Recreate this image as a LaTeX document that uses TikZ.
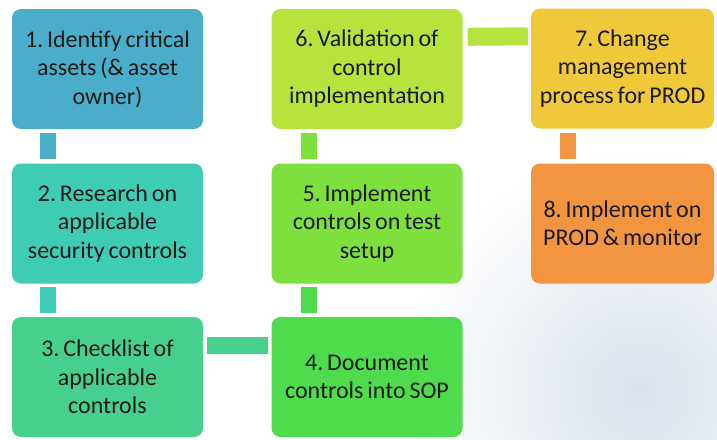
\documentclass[tikz,border=0pt]{standalone}
\usepackage{fontspec}
\setmainfont{Carlito}
\usetikzlibrary{calc}
\definecolor{c1}{HTML}{4AAECB}
\definecolor{c2}{HTML}{3FCCB4}
\definecolor{c3}{HTML}{47D08D}
\definecolor{c4}{HTML}{4EDB4C}
\definecolor{c5}{HTML}{7EE03C}
\definecolor{c6}{HTML}{B6E33C}
\definecolor{c7}{HTML}{F0C93A}
\definecolor{c8}{HTML}{F39441}
\definecolor{txt}{HTML}{1A1A1A}
\definecolor{bgshade}{HTML}{D9E2EC}
\newcommand{\stepfont}{\fontsize{24}{28.5}\selectfont\frenchspacing\setlength{\spaceskip}{0.16em}}
\tikzset{
  stepbox/.style={rectangle, rounded corners=9pt, minimum width=191pt, minimum height=120pt,
    inner sep=0pt, align=center, text=txt, font=\stepfont},
  link/.style={line width=16pt}
}
\begin{document}
\begin{tikzpicture}[x=1pt,y=-1pt]
\useasboundingbox (0,0) rectangle (717,439);
\fill[white] (0,0) rectangle (717,439);
\begin{scope}
\clip (0,0) rectangle (717,439);
\shade[inner color=bgshade, outer color=white] (640,390) circle (240);
\end{scope}
% boxes
\node[stepbox, fill=c1] (b1) at (107.5,69) {1. Identify critical\\assets (\& asset\\owner)};
\node[stepbox, fill=c2] (b2) at (107.5,223.5) {2. Research on\\applicable\\security controls};
\node[stepbox, fill=c3] (b3) at (107.5,377) {3. Checklist of\\applicable\\controls};
\node[stepbox, fill=c4] (b4) at (367,377) {4. Document\\controls into SOP};
\node[stepbox, fill=c5] (b5) at (367,223.5) {5. Implement\\controls on test\\setup};
\node[stepbox, fill=c6] (b6) at (367,69) {6. Validation of\\control\\implementation};
\node[stepbox, fill=c7, minimum width=183pt] (b7) at (622.5,68.5) {7. Change\\management\\process for PROD};
\node[stepbox, fill=c8, minimum width=183pt] (b8) at (622.5,223.5) {8. Implement on\\PROD \& monitor};
% connectors
\draw[link, c1] ($(b1.south west)+(36.5,4)$) -- ($(b2.north west)+(36.5,-4)$);
\draw[link, c2] ($(b2.south west)+(36.5,3)$) -- ($(b3.north west)+(36.5,-4)$);
\draw[link, c3, line width=17pt] ($(b3.north east)+(4,28.5)$) -- ($(b4.north west)+(-3,28.5)$);
\draw[link, c4] ($(b4.north west)+(37.5,-4)$) -- ($(b5.south west)+(37.5,3)$);
\draw[link, c5] ($(b5.north west)+(37.5,-4)$) -- ($(b6.south west)+(37.5,4)$);
\draw[link, c6, line width=18pt] ($(b6.north east)+(5,28)$) -- ($(b7.north west)+(-3,28)$);
\draw[link, c8] ($(b7.south west)+(37.5,4)$) -- ($(b8.north west)+(37.5,-4)$);
\end{tikzpicture}
\end{document}
